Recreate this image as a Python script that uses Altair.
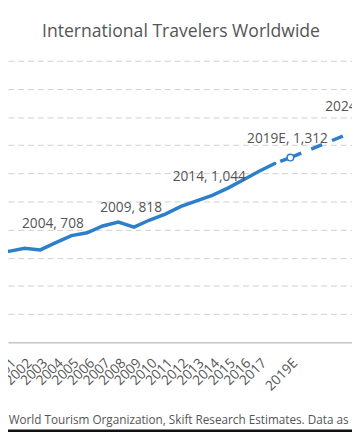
import altair as alt
import pandas as pd

# ---- data ----
hist_years = [1999, 2000, 2001, 2002, 2003, 2004, 2005, 2006, 2007, 2008, 2009,
              2010, 2011, 2012, 2013, 2014, 2015, 2016, 2017, 2018]
hist_vals = [628, 650, 646, 667, 656, 708, 757, 778, 826, 854, 818,
             868, 910, 965, 1005, 1044, 1095, 1155, 1215, 1270]
fc_years = [2018, 2019, 2024]
fc_vals = [1270, 1312, 1540]
label_years = [1999, 2004, 2009, 2014, 2019, 2024]
tick_years = [2001, 2002, 2003, 2004, 2005, 2006, 2007, 2008, 2009, 2010, 2011,
              2012, 2013, 2014, 2015, 2016, 2017, 2019, 2024]
grid_values = [200, 400, 600, 800, 1000, 1200, 1400, 1600, 1800, 2000]
estimate_years = [2019, 2024]
title_text = "International Travelers Worldwide"
source_text = ("Source: World Bank, World Tourism Organization, Skift Research "
               "Estimates. Data as of July 2019.")

BLUE = "#2C7FCA"
GRAY = "#555555"
FONT = "Open Sans"

hist = pd.DataFrame({"year": hist_years, "value": hist_vals})
fc = pd.DataFrame({"year": fc_years, "value": fc_vals})
allv = dict(zip(hist_years, hist_vals))
allv.update(dict(zip(fc_years, fc_vals)))
labels = pd.DataFrame({
    "year": label_years,
    "value": [allv[y] for y in label_years],
    "label": [f"{y}{'E' if y in estimate_years else ''}, {allv[y]:,}" for y in label_years],
})

x_scale = alt.Scale(domain=[2000.94, 2022.94], nice=False, zero=False)
y_scale = alt.Scale(domain=[0, 2000], nice=False)

label_expr = ("datum.value == 2019 ? '2019E' : datum.value == 2024 ? '2024E' : "
              "format(datum.value, 'd')")

x_enc = alt.X("year:Q", scale=x_scale, title=None,
              axis=alt.Axis(values=tick_years, tickCount=40, labelExpr=label_expr,
                            labelAngle=-45, labelFontSize=14, labelColor=GRAY,
                            labelFont=FONT, ticks=False, grid=False, labelPadding=14,
                            domainColor="#c4c4c4", domainWidth=1.5, labelOverlap=False))
y_enc = alt.Y("value:Q", scale=y_scale, title=None,
              axis=alt.Axis(values=grid_values, tickCount=40, labels=False, ticks=False,
                            domain=False, grid=True, gridDash=[6, 4],
                            gridColor="#cfcfcf", gridWidth=1))

base = alt.Chart(hist)

solid = base.mark_line(color=BLUE, strokeWidth=3.5, clip=True, strokeCap="round").encode(
    x=x_enc, y=y_enc)

dash_a = alt.Chart(fc).transform_filter("datum.year <= 2019").mark_line(
    color=BLUE, strokeWidth=3.5, clip=True, strokeDash=[12, 10], strokeDashOffset=16
).encode(x="year:Q", y="value:Q")

dash_b = alt.Chart(fc).transform_filter("datum.year >= 2019").mark_line(
    color=BLUE, strokeWidth=3.5, clip=True, strokeDash=[12, 11]
).encode(x="year:Q", y="value:Q")

marker = alt.Chart(fc).transform_filter("datum.year == 2019").mark_point(
    filled=True, fill="white", stroke=BLUE, strokeWidth=1.5, size=45, opacity=1, clip=True
).encode(x="year:Q", y="value:Q")

texts = alt.Chart(labels).mark_text(
    fontSize=14, color=GRAY, font=FONT, dy=-19, dx=-3, align="center", baseline="middle"
).encode(x="year:Q", y="value:Q", text="label:N")

title = alt.Chart(hist).transform_filter("datum.year == 2000").mark_text(
    fontSize=18, color=GRAY, font=FONT, align="center", baseline="alphabetic"
).encode(x=alt.value(177), y=alt.value(-24), text=alt.value(title_text))

source = alt.Chart(hist).transform_filter("datum.year == 2000").mark_text(
    fontSize=12, color=GRAY, font=FONT, align="left", baseline="middle"
).encode(x=alt.value(-115), y=alt.value(368), text=alt.value(source_text))

bottom_rule = alt.Chart(hist).transform_filter("datum.year == 2000").mark_rule(
    color="#111111", strokeWidth=2.5
).encode(x=alt.value(-10), x2=alt.value(360), y=alt.value(378.5))

chart = alt.layer(solid, dash_a, dash_b, marker, texts, title, source, bottom_rule).properties(
    width=352, height=288,
    autosize=alt.AutoSizeParams(type="none"),
    padding={"left": 0, "top": 49, "right": 0, "bottom": 92},
).configure_view(stroke=None)

chart.save("out.html", embed_options={"renderer": "svg", "actions": False})
